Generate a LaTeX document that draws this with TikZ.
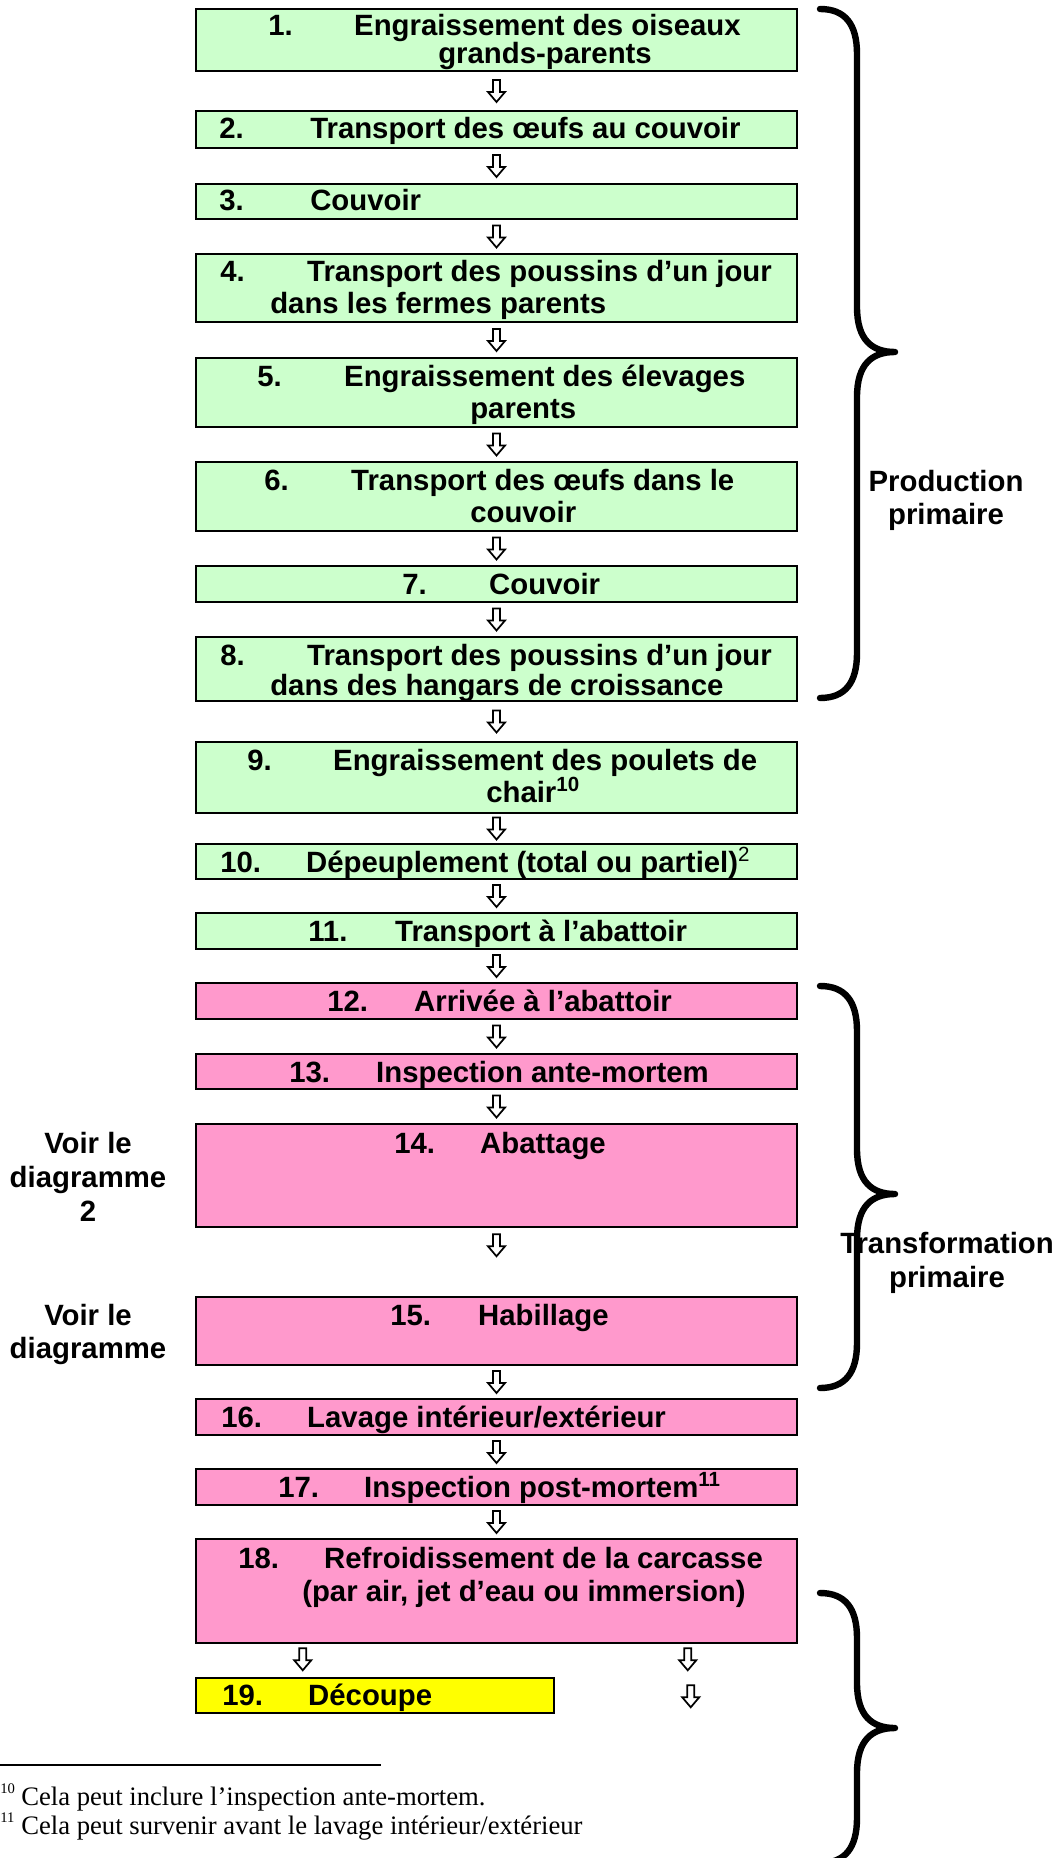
\documentclass[tikz,border=0pt]{standalone}
\usepackage{fontspec}
\setmainfont{Liberation Sans}
\newfontfamily\fnfont{Liberation Serif}
\usetikzlibrary{calc,fit}
\definecolor{boxgreen}{HTML}{CCFFCC}
\definecolor{boxpink}{HTML}{FF99CC}
\definecolor{boxyellow}{HTML}{FFFF00}
\newdimen\pxu \pxu=0.75pt
\newcommand\nbr[2]{\makebox[#1\pxu][l]{#2}}
\begin{document}
\begin{tikzpicture}[x=0.75pt,y=-0.75pt,
  box/.style={draw=black,line width=1.9pt,inner sep=0pt},
  gbox/.style={box,fill=boxgreen},
  pbox/.style={box,fill=boxpink},
  ybox/.style={box,fill=boxyellow},
  txt/.style={inner sep=0pt,anchor=base west,font=\bfseries\fontsize{22pt}{25pt}\selectfont},
  lbl/.style={inner sep=0pt,anchor=base,font=\bfseries\fontsize{22pt}{25pt}\selectfont},
  fn/.style={inner sep=0pt,anchor=base west,font=\fnfont\fontsize{20pt}{22pt}\selectfont},
  brace/.style={line width=4.8pt,line cap=round,line join=round},
  darr/.pic={\draw[line width=1.3pt,fill=white,line join=miter]
     (-3.5,-11) -- (3.5,-11) -- (3.5,1) -- (8.5,1) -- (0,11) -- (-8.5,1) -- (-3.5,1) -- cycle;}
]
\useasboundingbox (0,0) rectangle (1058,1858);

% ---------- boxes ----------
\node[gbox,fit={(196,9)(797,71)}]     (b1)  {};
\node[gbox,fit={(196,111)(797,148)}]  (b2)  {};
\node[gbox,fit={(196,184)(797,219)}]  (b3)  {};
\node[gbox,fit={(196,254)(797,322)}]  (b4)  {};
\node[gbox,fit={(196,358)(797,427)}]  (b5)  {};
\node[gbox,fit={(196,462)(797,531)}]  (b6)  {};
\node[gbox,fit={(196,566)(797,602)}]  (b7)  {};
\node[gbox,fit={(196,637)(797,701)}]  (b8)  {};
\node[gbox,fit={(196,742)(797,813)}]  (b9)  {};
\node[gbox,fit={(196,844)(797,879)}]  (b10) {};
\node[gbox,fit={(196,913)(797,949)}]  (b11) {};
\node[pbox,fit={(196,983)(797,1019)}] (b12) {};
\node[pbox,fit={(196,1054)(797,1089)}] (b13) {};
\node[pbox,fit={(196,1124)(797,1227)}] (b14) {};
\node[pbox,fit={(196,1297)(797,1365)}] (b15) {};
\node[pbox,fit={(196,1399)(797,1435)}] (b16) {};
\node[pbox,fit={(196,1469)(797,1505)}] (b17) {};
\node[pbox,fit={(196,1539)(797,1643)}] (b18) {};
\node[ybox,fit={(196,1678)(554,1713)}] (b19) {};

% ---------- box texts ----------
\node[txt] (t1a) at (268,36) {\nbr{86}{1.}Engraissement des oiseaux};
\node[txt] (t1b) at (438,64) {grands-parents};
\node[txt] (t2)  at (219,139) {\nbr{91}{2.}Transport des œufs au couvoir};
\node[txt] (t3)  at (219,211) {\nbr{91}{3.}Couvoir};
\node[txt] (t4a) at (220,282) {\nbr{87}{4.}Transport des poussins d’un jour};
\node[txt] (t4b) at (270,314) {dans les fermes parents};
\node[txt] (t5a) at (257,386) {\nbr{87}{5.}Engraissement des élevages};
\node[txt] (t5b) at (470,418) {parents};
\node[txt] (t6a) at (264,490) {\nbr{87}{6.}Transport des œufs dans le};
\node[txt] (t6b) at (470,522) {couvoir};
\node[txt] (t7)  at (402,594) {\nbr{87}{7.}Couvoir};
\node[txt] (t8a) at (220,665) {\nbr{87}{8.}Transport des poussins d’un jour};
\node[txt] (t8b) at (270,695) {dans des hangars de croissance};
\node[txt] (t9a) at (247,770) {\nbr{86}{9.}Engraissement des poulets de};
\node[txt] (t9b) at (486,802) {chair\textsuperscript{10}};
\node[txt] (t10) at (220,872) {\nbr{86}{10.}Dépeuplement (total ou partiel)\textsuperscript{\mdseries 2}};
\node[txt] (t11) at (308,941) {\nbr{87}{11.}Transport à l’abattoir};
\node[txt] (t12) at (327,1011) {\nbr{87}{12.}Arrivée à l’abattoir};
\node[txt] (t13) at (289,1082) {\nbr{87}{13.}Inspection ante-mortem};
\node[txt] (t14) at (394,1153) {\nbr{86}{14.}Abattage};
\node[txt] (t15) at (390,1325) {\nbr{88}{15.}Habillage};
\node[txt] (t16) at (221,1427) {\nbr{86}{16.}Lavage intérieur/extérieur};
\node[txt] (t17) at (278,1497) {\nbr{86}{17.}Inspection post-mortem\textsuperscript{11}};
\node[txt] (t18a) at (238,1568) {\nbr{86}{18.}Refroidissement de la carcasse};
\node[txt] (t18b) at (302,1601) {(par air, jet d’eau ou immersion)};
\node[txt] (t19) at (222,1705) {\nbr{86}{19.}Découpe};

% ---------- arrows ----------
\pic at ($(b1.south)!0.5!(b2.north)$) {darr};
\pic at ($(b2.south)!0.5!(b3.north)$) {darr};
\pic at ($(b3.south)!0.5!(b4.north)$) {darr};
\pic at ($(b4.south)!0.5!(b5.north)$) {darr};
\pic at ($(b5.south)!0.5!(b6.north)$) {darr};
\pic at ($(b6.south)!0.5!(b7.north)$) {darr};
\pic at ($(b7.south)!0.5!(b8.north)$) {darr};
\pic at ($(b8.south)!0.5!(b9.north)$) {darr};
\pic at ($(b9.south)!0.5!(b10.north)$) {darr};
\pic at ($(b10.south)!0.5!(b11.north)$) {darr};
\pic at ($(b11.south)!0.5!(b12.north)$) {darr};
\pic at ($(b12.south)!0.5!(b13.north)$) {darr};
\pic at ($(b13.south)!0.5!(b14.north)$) {darr};
\pic at ($(b14.south)+(0,17)$) {darr};
\pic at ($(b15.south)!0.5!(b16.north)$) {darr};
\pic at ($(b16.south)!0.5!(b17.north)$) {darr};
\pic at ($(b17.south)!0.5!(b18.north)$) {darr};
\pic at ($(b18.south west)+(108,15)$) {darr};
\pic at ($(b18.south west)+(493,15)$) {darr};
\pic at ($(b18.south west)+(496,52)$) {darr};

% ---------- side labels ----------
\node[lbl] (lp1) at (946,491) {Production};
\node[lbl] (lp2) at (946,524) {primaire};
\node[lbl] (lt1) at (947,1253) {Transformation};
\node[lbl] (lt2) at (947,1287) {primaire};
\node[lbl] (lv1) at (88,1153) {Voir le};
\node[lbl] (lv2) at (88,1187) {diagramme};
\node[lbl] (lv3) at (88,1221) {2};
\node[lbl] (lw1) at (88,1325) {Voir le};
\node[lbl] (lw2) at (88,1358) {diagramme};

% ---------- braces ----------
\draw[brace] (820,9) .. controls (845,9) and (857,24) .. (857,54) -- (857,307)
  .. controls (857,340) and (872,352) .. (895,352)
  .. controls (872,352) and (857,364) .. (857,397) -- (857,653)
  .. controls (857,683) and (845,698) .. (820,698);
\draw[brace] (820,986) .. controls (845,986) and (857,1001) .. (857,1031) -- (857,1149)
  .. controls (857,1182) and (872,1194) .. (895,1194)
  .. controls (872,1194) and (857,1206) .. (857,1239) -- (857,1343)
  .. controls (857,1373) and (845,1388) .. (820,1388);
\draw[brace] (820,1593) .. controls (845,1593) and (857,1608) .. (857,1638) -- (857,1683)
  .. controls (857,1716) and (872,1728) .. (895,1728)
  .. controls (872,1728) and (857,1740) .. (857,1773) -- (857,1818)
  .. controls (857,1848) and (845,1863) .. (820,1863);

% ---------- footnotes ----------
\coordinate (fr1) at (0,1765);
\coordinate (fr2) at (381,1765);
\draw[line width=1.2pt] (fr1) -- (fr2);
\node[fn] (f1) at (0,1805) {\makebox[21\pxu][l]{\raisebox{9pt}{\fontsize{11pt}{11pt}\selectfont 10}}Cela peut inclure l’inspection ante-mortem.};
\node[fn] (f2) at (0,1834) {\makebox[21\pxu][l]{\raisebox{9pt}{\fontsize{11pt}{11pt}\selectfont 11}}Cela peut survenir avant le lavage intérieur/extérieur};
\end{tikzpicture}
\end{document}
